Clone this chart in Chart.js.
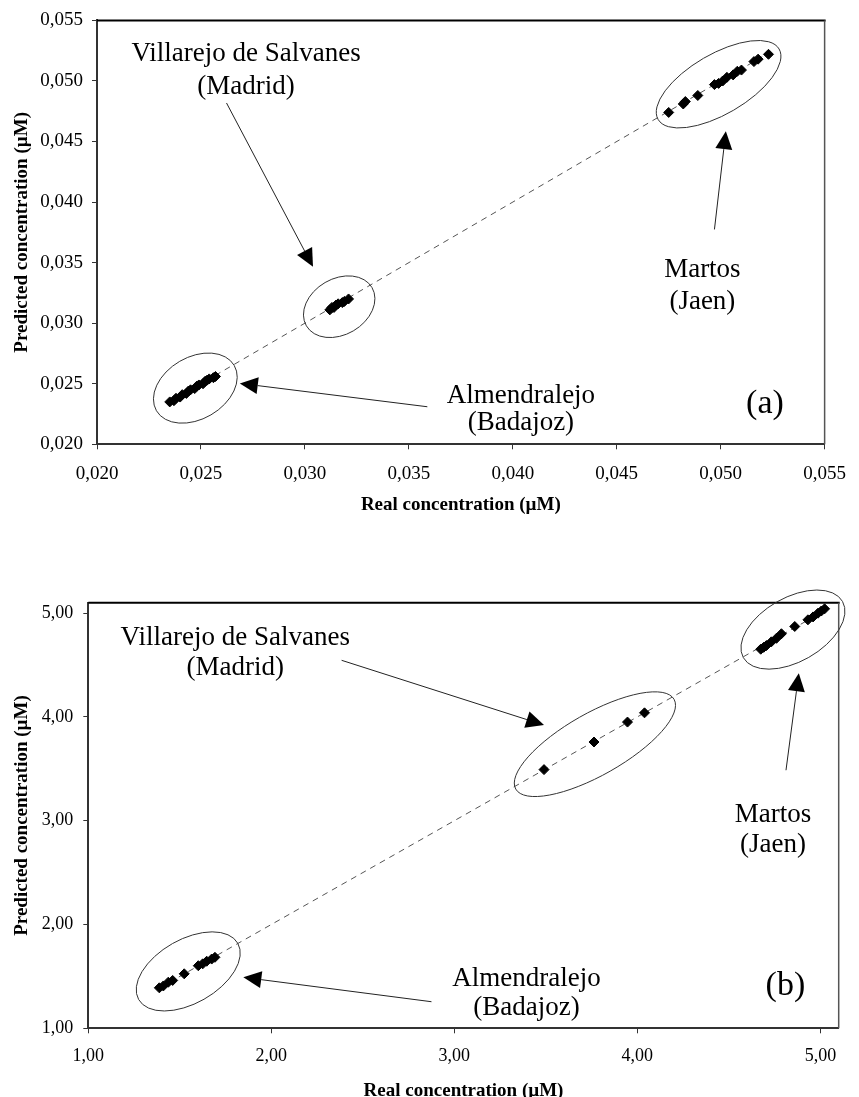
<!DOCTYPE html>
<html>
<head>
<meta charset="utf-8">
<script src="https://cdn.jsdelivr.net/npm/chart.js@4"></script>
<style>
  html, body { margin: 0; padding: 0; background: #fff; overflow: hidden; }
  canvas { position: absolute; left: 0; }
</style>
</head>
<body>
<canvas id="chartA" width="859" height="530" style="top:0"></canvas>
<canvas id="chartB" width="859" height="580" style="top:530px"></canvas>
<script>
// Dados (a): concentração baixa
const realA = [0.0235, 0.0237, 0.0238, 0.0240, 0.0241, 0.0243, 0.0244, 0.0245, 0.0247, 0.0248, 0.0249, 0.0251, 0.0252, 0.0253, 0.0254, 0.0256, 0.0257,
               0.0312, 0.0313, 0.0314, 0.0315, 0.0316, 0.0318, 0.0319, 0.0321,
               0.0475, 0.0482, 0.0483, 0.0489, 0.0497, 0.0499, 0.0501, 0.0503, 0.0506, 0.0508, 0.0510, 0.0516, 0.0518, 0.0523];
const predA = [0.0235, 0.0236, 0.0238, 0.0239, 0.0241, 0.0242, 0.0244, 0.0245, 0.0246, 0.0248, 0.0249, 0.0250, 0.0252, 0.0253, 0.0254, 0.0255, 0.0256,
               0.0311, 0.0313, 0.0313, 0.0315, 0.0316, 0.0317, 0.0318, 0.0320,
               0.0474, 0.0481, 0.0483, 0.0488, 0.0497, 0.0498, 0.0500, 0.0503, 0.0505, 0.0508, 0.0509, 0.0516, 0.0518, 0.0522];
const fitA = [0.0234, 0.0523];
const ticksA = [0.020, 0.025, 0.030, 0.035, 0.040, 0.045, 0.050, 0.055];

// Dados (b): concentração alta
const realB = [1.388, 1.410, 1.437, 1.461, 1.524, 1.601, 1.625, 1.647, 1.674, 1.692,
               3.490, 3.763, 3.946, 4.039,
               4.674, 4.690, 4.705, 4.732, 4.760, 4.787, 4.860, 4.932, 4.960, 4.987, 5.005, 5.023];
const predB = [1.390, 1.408, 1.444, 1.461, 1.525, 1.603, 1.621, 1.646, 1.667, 1.684,
               3.492, 3.758, 3.950, 4.039,
               4.652, 4.670, 4.687, 4.723, 4.757, 4.801, 4.871, 4.935, 4.963, 4.999, 5.020, 5.041];
const fitB = [1.39, 5.04];
const ticksB = [1, 2, 3, 4, 5];

const SERIF = '"Liberation Serif", "Times New Roman", serif';

// Anotações (elipses, setas, textos) em coordenadas de dados
const annotA = {
  ellipses: [
    { x: 0.02473, y: 0.02464, rx: 45, ry: 31 },
    { x: 0.03165, y: 0.03136, rx: 38, ry: 28 },
    { x: 0.04990, y: 0.04973, rx: 70, ry: 30 }
  ],
  arrows: [
    { x0: 0.02623, y0: 0.04818, x1: 0.03039, y1: 0.03465 },
    { x0: 0.03589, y0: 0.02310, x1: 0.02687, y1: 0.02503 },
    { x0: 0.04970, y0: 0.03774, x1: 0.05025, y1: 0.04585 }
  ],
  labels: [
    { x: 0.02717, y: 0.05162, lines: ['Villarejo de Salvanes', '(Madrid)'], size: 27, gap: 33 },
    { x: 0.04912, y: 0.03383, lines: ['Martos', '(Jaen)'], size: 27, gap: 32 },
    { x: 0.04039, y: 0.02338, lines: ['Almendralejo', '(Badajoz)'], size: 27, gap: 27 },
    { x: 0.05213, y: 0.02256, lines: ['(a)'], size: 34, gap: 0 }
  ]
};
const annotB = {
  ellipses: [
    { x: 1.546, y: 1.548, rx: 57, ry: 32 },
    { x: 3.768, y: 3.737, rx: 91, ry: 31 },
    { x: 4.850, y: 4.841, rx: 57, ry: 32 }
  ],
  arrows: [
    { x0: 2.384, y0: 4.545, x1: 3.490, y1: 3.921 },
    { x0: 2.875, y0: 1.256, x1: 1.847, y1: 1.491 },
    { x0: 4.812, y0: 3.486, x1: 4.882, y1: 4.420 }
  ],
  labels: [
    { x: 1.803, y: 4.694, lines: ['Villarejo de Salvanes', '(Madrid)'], size: 27, gap: 30 },
    { x: 4.741, y: 2.986, lines: ['Martos', '(Jaen)'], size: 27, gap: 29.5 },
    { x: 3.394, y: 1.407, lines: ['Almendralejo', '(Badajoz)'], size: 27, gap: 29.4 },
    { x: 4.809, y: 1.320, lines: ['(b)'], size: 34, gap: 0 }
  ]
};

function drawArrow(ctx, x0, y0, x1, y1) {
  const ang = Math.atan2(y1 - y0, x1 - x0);
  const L = 18, W = 8.5;
  const bx = x1 - L * Math.cos(ang), by = y1 - L * Math.sin(ang);
  ctx.beginPath();
  ctx.moveTo(x0, y0);
  ctx.lineTo(bx, by);
  ctx.stroke();
  ctx.beginPath();
  ctx.moveTo(x1, y1);
  ctx.lineTo(bx + W * Math.sin(ang), by - W * Math.cos(ang));
  ctx.lineTo(bx - W * Math.sin(ang), by + W * Math.cos(ang));
  ctx.closePath();
  ctx.fill();
}

function makeAnnot(cfg, fit) {
  return {
    id: 'annot',
    afterDatasetsDraw(chart) {
      const { ctx, chartArea: a, scales: { x, y } } = chart;
      ctx.save();
      // moldura: topo e lado direito
      ctx.strokeStyle = '#000';
      ctx.lineWidth = 2;
      ctx.beginPath(); ctx.moveTo(a.left, a.top); ctx.lineTo(a.right + 1, a.top); ctx.stroke();
      ctx.strokeStyle = '#555';
      ctx.lineWidth = 1.5;
      ctx.beginPath(); ctx.moveTo(a.right, a.top); ctx.lineTo(a.right, a.bottom); ctx.stroke();

      // inclinação das elipses segue a reta y = x
      const ang = Math.atan2(y.getPixelForValue(fit[1]) - y.getPixelForValue(fit[0]),
                             x.getPixelForValue(fit[1]) - x.getPixelForValue(fit[0]));
      ctx.strokeStyle = '#333';
      ctx.lineWidth = 1;
      cfg.ellipses.forEach(e => {
        ctx.beginPath();
        ctx.ellipse(x.getPixelForValue(e.x), y.getPixelForValue(e.y), e.rx, e.ry, ang, 0, Math.PI * 2);
        ctx.stroke();
      });

      ctx.strokeStyle = '#222';
      ctx.fillStyle = '#000';
      cfg.arrows.forEach(r => {
        drawArrow(ctx, x.getPixelForValue(r.x0), y.getPixelForValue(r.y0), x.getPixelForValue(r.x1), y.getPixelForValue(r.y1));
      });

      ctx.textAlign = 'center';
      ctx.textBaseline = 'alphabetic';
      cfg.labels.forEach(l => {
        ctx.font = l.size + 'px ' + SERIF;
        const px = x.getPixelForValue(l.x), py = y.getPixelForValue(l.y);
        l.lines.forEach((t, i) => ctx.fillText(t, px, py + i * l.gap));
      });
      ctx.restore();
    }
  };
}

function makeChart(id, c) {
  const fmt = v => Number(v).toFixed(c.dec).replace('.', ',');
  const axisCommon = (ticks, size, pad) => ({
    type: 'linear',
    min: c.min, max: c.max,
    afterBuildTicks: s => { s.ticks = ticks.map(v => ({ value: v })); },
    ticks: { font: { family: SERIF, size: size }, color: '#000', padding: pad, callback: v => fmt(v), autoSkip: false, maxRotation: 0 },
    grid: { drawOnChartArea: false, tickLength: 5, color: '#333', tickWidth: 1 },
    border: { color: '#333', width: 2 }
  });
  const xAxis = axisCommon(c.ticks, c.tickSize, c.xPad);
  xAxis.afterFit = s => { s.height = c.xH; };
  xAxis.title = { display: true, text: 'Real concentration (µM)', color: '#000',
                  font: { family: SERIF, size: 19, weight: 'bold' }, padding: { top: 0, bottom: c.xTitlePad } };
  const yAxis = axisCommon(c.ticks, c.tickSize, c.yPad);
  yAxis.afterFit = s => { s.width = c.yW; };
  yAxis.title = { display: true, text: 'Predicted concentration (µM)', color: '#000',
                  font: { family: SERIF, size: 19, weight: 'bold' }, padding: { top: 11, bottom: 0 } };

  return new Chart(document.getElementById(id), {
    type: 'scatter',
    data: {
      datasets: [
        {
          type: 'line',
          data: c.fit.map(v => ({ x: v, y: v })),
          borderColor: '#555', borderWidth: 1, borderDash: [6, 5],
          pointRadius: 0, fill: false, order: 2
        },
        {
          data: c.real.map((v, i) => ({ x: v, y: c.pred[i] })),
          pointStyle: 'rectRot', pointRadius: 5,
          backgroundColor: '#000', borderColor: '#000', borderWidth: 1, order: 1
        }
      ]
    },
    options: {
      responsive: false,
      animation: false,
      layout: { padding: c.pad },
      plugins: { legend: { display: false }, tooltip: { enabled: false } },
      scales: { x: xAxis, y: yAxis }
    },
    plugins: [makeAnnot(c.annot, c.fit)]
  });
}

// Gráfico (a)
makeChart('chartA', {
  real: realA, pred: predA, fit: fitA, ticks: ticksA, annot: annotA,
  min: 0.020, max: 0.055, dec: 3, tickSize: 19, xPad: 13, yPad: 9,
  pad: { top: 20, right: 24.5, left: 0, bottom: 0 },
  yW: 97, xH: 85.7, xTitlePad: 13.6
});

// Gráfico (b)
makeChart('chartB', {
  real: realB, pred: predB, fit: fitB, ticks: ticksB, annot: annotB,
  min: 1, max: 5.1, dec: 2, tickSize: 18, xPad: 12.6, yPad: 10,
  pad: { top: 72.7, right: 20.3, left: 0, bottom: 0 },
  yW: 88.3, xH: 81.7, xTitlePad: 7.6
});
</script>
</body>
</html>
